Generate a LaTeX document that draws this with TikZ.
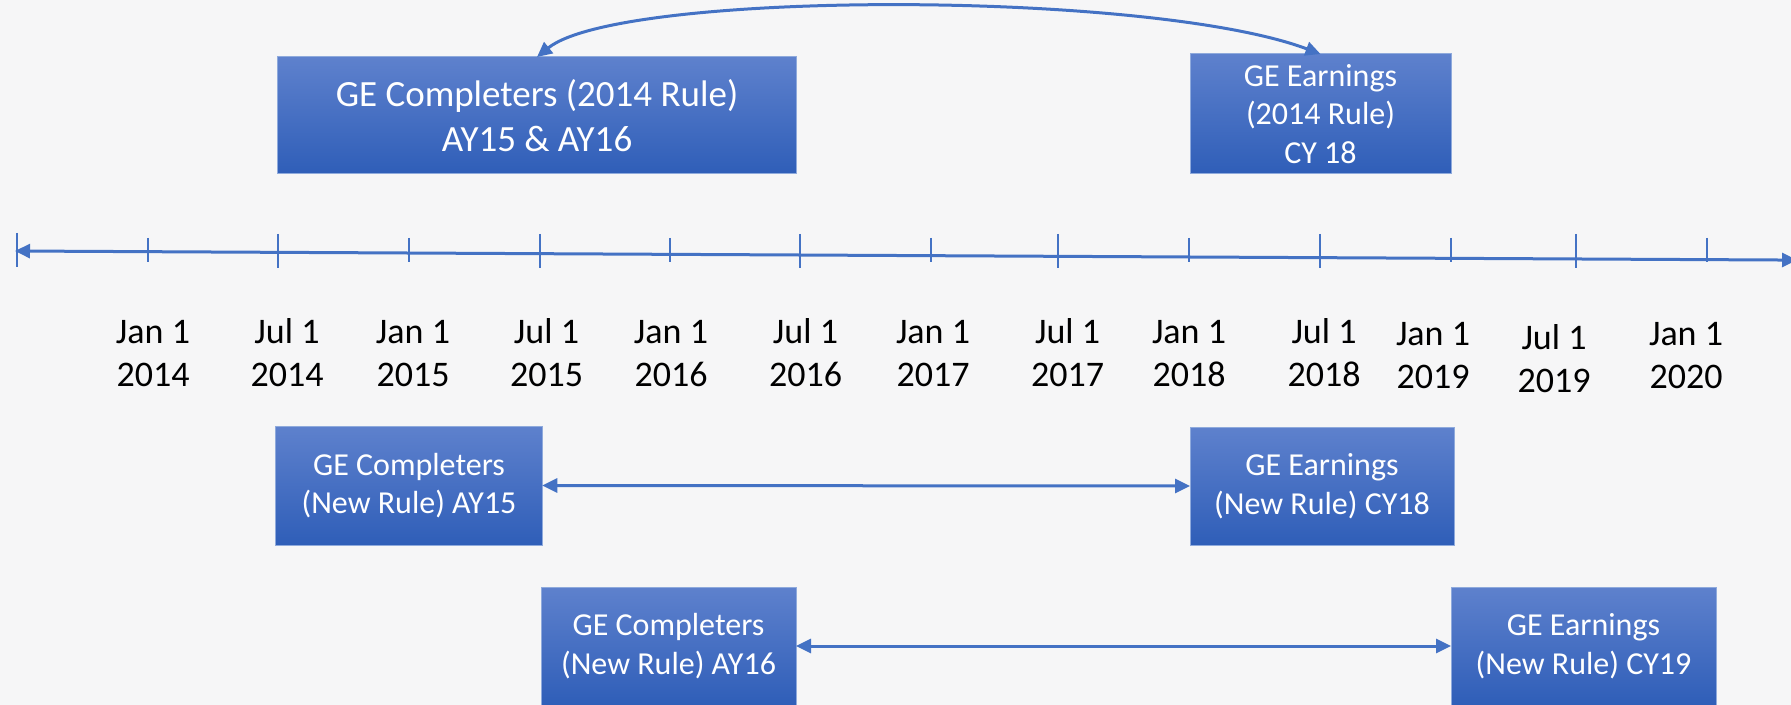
\documentclass[tikz,border=0pt]{standalone}
\usepackage{fontspec}
\setmainfont{Carlito}
\usetikzlibrary{arrows.meta,calc}
\definecolor{bgc}{RGB}{246,246,247}
\definecolor{lineblue}{RGB}{68,114,196}
\definecolor{boxtop}{RGB}{94,129,205}
\definecolor{boxbot}{RGB}{47,94,184}
\definecolor{boxedge}{RGB}{143,170,220}
\tikzset{
  gebox/.style={shading=axis, top color=boxtop, bottom color=boxbot, draw=boxedge, line width=0.5pt,
    text=white, align=center, inner sep=0pt, outer sep=0pt},
  smallfont/.style={font=\fontsize{16}{19.25}\selectfont},
  bigfont/.style={font=\fontsize{18.5}{22.5}\selectfont},
  datelbl/.style={font=\fontsize{18}{21.5}\selectfont, align=center, inner sep=0pt, anchor=north, text=black},
  conn/.style={draw=lineblue, line width=1.5pt, {Triangle[length=7.5pt,width=7pt]}-{Triangle[length=7.5pt,width=7pt]}},
  tickmark/.style={draw=lineblue, line width=1pt},
}
\begin{document}
\begin{tikzpicture}[x=0.5pt,y=-0.5pt]
\useasboundingbox (0,0) rectangle (1791,705);
\fill[bgc] (0,0) rectangle (1791,705);

% boxes
\node[gebox, bigfont, minimum width=259.5pt, minimum height=58.5pt] (A) at (537,115.5) {GE Completers (2014 Rule)\\AY15 \& AY16};
\node[gebox, smallfont, minimum width=130.5pt, minimum height=60pt] (B) at (1320.5,114) {GE Earnings\\(2014 Rule)\\CY 18};
\node[gebox, smallfont, minimum width=133.25pt, minimum height=59.5pt] (C) at (409,485.5) {GE Completers\\(New Rule) AY15};
\node[gebox, smallfont, minimum width=132pt, minimum height=59pt] (D) at (1322,486) {GE Earnings\\(New Rule) CY18};
\node[gebox, smallfont, minimum width=127.5pt, minimum height=59pt] (E) at (668.5,646) {GE Completers\\(New Rule) AY16};
\node[gebox, smallfont, minimum width=132.5pt, minimum height=59pt] (F) at (1583.5,646) {GE Earnings\\(New Rule) CY19};

% timeline
\coordinate (tl) at (15,251);
\coordinate (tr) at (1797,260.1);
\draw[conn] (tl) -- (tr);
\draw[tickmark] (17,233) -- (17,267);
\foreach \x in {148,409,670,931,1189,1451,1707} \draw[tickmark] (\x,238) -- (\x,262);
\foreach \x in {278,540,800,1058,1320,1576} \draw[tickmark] (\x,234) -- (\x,268);

% date labels
\foreach \x/\m/\yr/\ty [count=\i] in {153/Jan 1/2014/320, 287/Jul 1/2014/318, 413/Jan 1/2015/320, 546.5/Jul 1/2015/318, 671/Jan 1/2016/320, 805.5/Jul 1/2016/318, 933/Jan 1/2017/320, 1067.6/Jul 1/2017/318, 1189/Jan 1/2018/320, 1324/Jul 1/2018/318, 1433/Jan 1/2019/322, 1554/Jul 1/2019/324, 1686/Jan 1/2020/322}
  \node[datelbl] (lbl\i) at (\x,\ty) {\m\\\yr};

% connectors
\draw[conn] (A.north) .. controls (620,-10) and (1150,-10) .. (B.north);
\draw[conn] (C.east) -- (D.west);
\draw[conn] (E.east) -- (F.west);
\end{tikzpicture}
\end{document}
